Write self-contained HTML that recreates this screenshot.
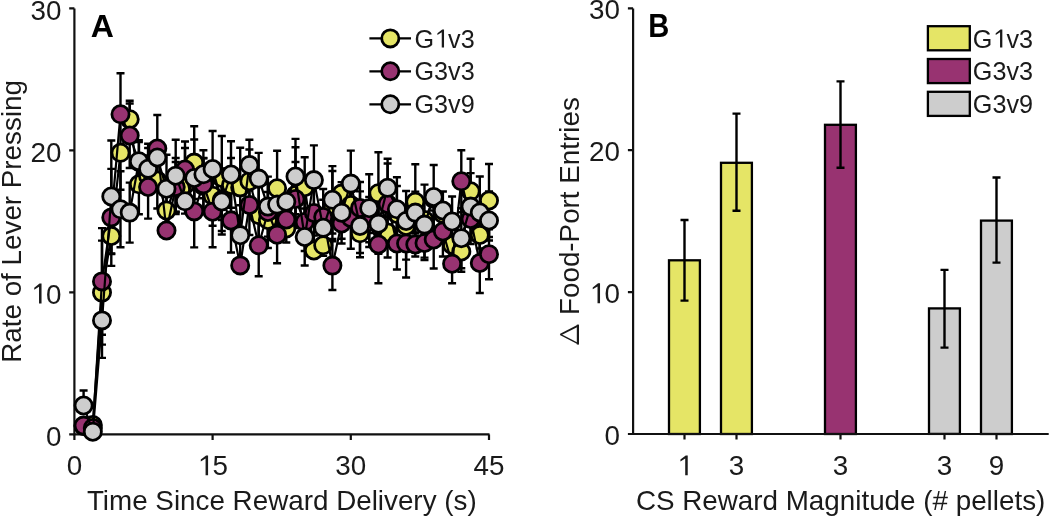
<!DOCTYPE html>
<html><head><meta charset="utf-8"><style>
html,body{margin:0;padding:0;background:#fff;}
body{width:1050px;height:516px;overflow:hidden;font-family:"Liberation Sans",sans-serif;}
svg{display:block;will-change:transform;}
</style></head><body>
<svg width="1050" height="516" viewBox="0 0 1050 516" font-family="Liberation Sans, sans-serif">
<rect width="1050" height="516" fill="#fff"/>
<path d="M74.4,8.4V434.4H489.5" stroke="#111" stroke-width="2.2" fill="none"/>
<path d="M102.0,292.6V240.6M98.0,240.6H106.0M102.0,292.6V344.6M98.0,344.6H106.0M111.3,236.0V218.0M107.3,218.0H115.3M111.3,236.0V254.0M107.3,254.0H115.3M120.5,152.8V115.8M116.5,115.8H124.5M120.5,152.8V189.8M116.5,189.8H124.5M129.7,119.2V100.7M125.7,100.7H133.7M129.7,119.2V136.7M125.7,136.7H133.7M138.9,184.3V154.3M134.9,154.3H142.9M138.9,184.3V214.3M134.9,214.3H142.9M148.1,176.0V148.0M144.1,148.0H152.1M157.3,180.5V152.5M153.3,152.5H161.3M157.3,180.5V208.5M153.3,208.5H161.3M166.5,210.5V180.5M162.5,180.5H170.5M175.7,186.0V158.0M171.7,158.0H179.7M175.7,186.0V214.0M171.7,214.0H179.7M185.0,185.0V148.0M181.0,148.0H189.0M185.0,185.0V213.6M181.0,213.6H189.0M194.2,162.6V126.2M190.2,126.2H198.2M194.2,162.6V199.0M190.2,199.0H198.2M203.4,186.0V158.0M199.4,158.0H207.4M203.4,186.0V214.0M199.4,214.0H207.4M212.6,195.8V165.8M208.6,165.8H216.6M212.6,195.8V225.8M208.6,225.8H216.6M221.8,178.0V136.0M217.8,136.0H225.8M221.8,178.0V220.0M217.8,220.0H225.8M231.0,185.0V158.0M227.0,158.0H235.0M231.0,185.0V212.0M227.0,212.0H235.0M240.2,187.4V147.8M236.2,147.8H244.2M240.2,187.4V227.0M236.2,227.0H244.2M249.4,181.2V149.5M245.4,149.5H253.4M249.4,181.2V212.9M245.4,212.9H253.4M258.7,215.0V187.0M254.7,187.0H262.7M258.7,215.0V243.0M254.7,243.0H262.7M267.9,220.0V192.0M263.9,192.0H271.9M267.9,220.0V248.0M263.9,248.0H271.9M277.1,188.3V150.8M273.1,150.8H281.1M277.1,188.3V225.8M273.1,225.8H281.1M295.5,195.0V147.3M291.5,147.3H299.5M295.5,195.0V228.0M291.5,228.0H299.5M304.7,187.2V157.2M300.7,157.2H308.7M304.7,187.2V217.2M300.7,217.2H308.7M313.9,250.5V235.5M309.9,235.5H317.9M323.2,245.3V230.3M319.2,230.3H327.2M332.4,205.0V171.0M328.4,171.0H336.4M332.4,205.0V239.0M328.4,239.0H336.4M341.6,193.6V182.1M337.6,182.1H345.6M341.6,193.6V213.6M337.6,213.6H345.6M350.8,205.0V225.0M346.8,225.0H354.8M360.0,233.3V209.3M356.0,209.3H364.0M360.0,233.3V257.3M356.0,257.3H364.0M369.2,213.0V233.0M365.2,233.0H373.2M378.4,193.3V152.3M374.4,152.3H382.4M378.4,193.3V234.3M374.4,234.3H382.4M387.6,232.5V207.5M383.6,207.5H391.6M387.6,232.5V257.5M383.6,257.5H391.6M396.9,214.0V186.0M392.9,186.0H400.9M396.9,214.0V242.0M392.9,242.0H400.9M415.3,201.8V164.2M411.3,164.2H419.3M415.3,201.8V239.4M411.3,239.4H419.3M424.5,220.0V240.0M420.5,240.0H428.5M461.3,251.5V231.2M457.3,231.2H465.3M461.3,251.5V271.8M457.3,271.8H465.3M470.6,191.3V158.7M466.6,158.7H474.6M470.6,191.3V223.9M466.6,223.9H474.6M479.8,235.0V205.0M475.8,205.0H483.8M479.8,235.0V265.0M475.8,265.0H483.8M489.0,200.5V164.0M485.0,164.0H493.0M489.0,200.5V237.0M485.0,237.0H493.0" stroke="#000" stroke-width="2.4" fill="none"/>
<path d="M83.6,425.6V421.6M79.6,421.6H87.6M83.6,425.6V429.6M79.6,429.6H87.6M102.0,281.4V228.1M98.0,228.1H106.0M102.0,281.4V334.7M98.0,334.7H106.0M111.3,217.4V168.9M107.3,168.9H115.3M111.3,217.4V265.9M107.3,265.9H115.3M120.5,114.3V73.3M116.5,73.3H124.5M129.7,135.5V103.5M125.7,103.5H133.7M129.7,135.5V168.0M125.7,168.0H133.7M138.9,162.0V142.0M134.9,142.0H142.9M138.9,162.0V182.0M134.9,182.0H142.9M148.1,187.0V155.4M144.1,155.4H152.1M148.1,187.0V218.6M144.1,218.6H152.1M157.3,148.5V115.0M153.3,115.0H161.3M157.3,148.5V180.5M153.3,180.5H161.3M166.5,230.5V202.5M162.5,202.5H170.5M175.7,187.0V162.0M171.7,162.0H179.7M175.7,187.0V212.0M171.7,212.0H179.7M185.0,169.5V141.5M181.0,141.5H189.0M185.0,169.5V197.5M181.0,197.5H189.0M194.2,211.4V175.4M190.2,175.4H198.2M194.2,211.4V247.4M190.2,247.4H198.2M203.4,184.3V158.3M199.4,158.3H207.4M203.4,184.3V210.3M199.4,210.3H207.4M212.6,211.7V176.1M208.6,176.1H216.6M212.6,211.7V247.3M208.6,247.3H216.6M221.8,200.0V169.0M217.8,169.0H225.8M221.8,200.0V231.0M217.8,231.0H225.8M231.0,220.5V188.5M227.0,188.5H235.0M231.0,220.5V252.5M227.0,252.5H235.0M240.2,265.4V240.4M236.2,240.4H244.2M249.4,205.0V175.0M245.4,175.0H253.4M249.4,205.0V235.0M245.4,235.0H253.4M258.7,245.3V214.3M254.7,214.3H262.7M258.7,245.3V276.3M254.7,276.3H262.7M267.9,212.0V184.0M263.9,184.0H271.9M267.9,212.0V240.0M263.9,240.0H271.9M277.1,234.7V206.2M273.1,206.2H281.1M277.1,234.7V263.2M273.1,263.2H281.1M286.3,219.5V196.5M282.3,196.5H290.3M286.3,219.5V242.5M282.3,242.5H290.3M295.5,199.0V162.0M291.5,162.0H299.5M295.5,199.0V224.0M291.5,224.0H299.5M304.7,222.0V194.0M300.7,194.0H308.7M304.7,222.0V251.0M300.7,251.0H308.7M313.9,213.0V185.0M309.9,185.0H317.9M313.9,213.0V241.0M309.9,241.0H317.9M323.2,217.0V189.0M319.2,189.0H327.2M323.2,217.0V245.0M319.2,245.0H327.2M332.4,265.6V241.2M328.4,241.2H336.4M332.4,265.6V290.0M328.4,290.0H336.4M341.6,223.5V203.5M337.6,203.5H345.6M341.6,223.5V243.5M337.6,243.5H345.6M350.8,218.0V248.7M346.8,248.7H354.8M360.0,208.0V182.0M356.0,182.0H364.0M360.0,208.0V233.0M356.0,233.0H364.0M369.2,222.0V197.0M365.2,197.0H373.2M369.2,222.0V247.0M365.2,247.0H373.2M378.4,244.5V205.7M374.4,205.7H382.4M378.4,244.5V283.3M374.4,283.3H382.4M387.6,204.0V163.5M383.6,163.5H391.6M387.6,204.0V229.0M383.6,229.0H391.6M396.9,243.5V217.5M392.9,217.5H400.9M396.9,243.5V269.5M392.9,269.5H400.9M406.1,243.5V209.5M402.1,209.5H410.1M406.1,243.5V277.5M402.1,277.5H410.1M415.3,244.5V232.5M411.3,232.5H419.3M415.3,244.5V256.5M411.3,256.5H419.3M424.5,243.0V223.4M420.5,223.4H428.5M424.5,243.0V260.0M420.5,260.0H428.5M433.7,239.5V210.5M429.7,210.5H437.7M433.7,239.5V268.5M429.7,268.5H437.7M442.9,231.5V206.5M438.9,206.5H446.9M442.9,231.5V256.5M438.9,256.5H446.9M452.1,263.7V244.1M448.1,244.1H456.1M452.1,263.7V283.3M448.1,283.3H456.1M461.3,181.3V150.3M457.3,150.3H465.3M461.3,181.3V212.3M457.3,212.3H465.3M470.6,219.0V194.0M466.6,194.0H474.6M470.6,219.0V244.0M466.6,244.0H474.6M479.8,263.0V233.0M475.8,233.0H483.8M479.8,263.0V293.0M475.8,293.0H483.8M489.0,254.2V229.2M485.0,229.2H493.0M489.0,254.2V279.2M485.0,279.2H493.0" stroke="#000" stroke-width="2.4" fill="none"/>
<path d="M83.6,405.5V390.5M79.6,390.5H87.6M83.6,405.5V409.5M79.6,409.5H87.6M92.8,431.7V427.7M88.8,427.7H96.8M92.8,431.7V435.7M88.8,435.7H96.8M102.0,320.4V282.9M98.0,282.9H106.0M102.0,320.4V357.9M98.0,357.9H106.0M111.3,196.5V140.5M107.3,140.5H115.3M111.3,196.5V253.5M107.3,253.5H115.3M120.5,209.3V171.3M116.5,171.3H124.5M120.5,209.3V247.3M116.5,247.3H124.5M129.7,212.6V182.6M125.7,182.6H133.7M129.7,212.6V242.6M125.7,242.6H133.7M138.9,161.2V140.2M134.9,140.2H142.9M138.9,161.2V182.2M134.9,182.2H142.9M148.1,168.8V143.8M144.1,143.8H152.1M166.5,188.7V154.7M162.5,154.7H170.5M166.5,188.7V222.7M162.5,222.7H170.5M175.7,175.7V139.7M171.7,139.7H179.7M175.7,175.7V211.7M171.7,211.7H179.7M185.0,201.3V171.3M181.0,171.3H189.0M194.2,178.0V139.5M190.2,139.5H198.2M194.2,178.0V216.5M190.2,216.5H198.2M203.4,174.3V150.3M199.4,150.3H207.4M203.4,174.3V198.3M199.4,198.3H207.4M212.6,169.0V131.0M208.6,131.0H216.6M212.6,169.0V207.0M208.6,207.0H216.6M221.8,201.5V168.5M217.8,168.5H225.8M221.8,201.5V234.5M217.8,234.5H225.8M231.0,174.5V141.2M227.0,141.2H235.0M231.0,174.5V207.8M227.0,207.8H235.0M240.2,235.2V205.2M236.2,205.2H244.2M249.4,165.0V139.7M245.4,139.7H253.4M249.4,165.0V190.3M245.4,190.3H253.4M258.7,178.6V152.9M254.7,152.9H262.7M258.7,178.6V204.3M254.7,204.3H262.7M267.9,206.6V176.6M263.9,176.6H271.9M267.9,206.6V236.6M263.9,236.6H271.9M277.1,204.6V234.6M273.1,234.6H281.1M286.3,201.7V231.7M282.3,231.7H290.3M295.5,176.5V138.9M291.5,138.9H299.5M295.5,176.5V214.1M291.5,214.1H299.5M304.7,237.0V208.5M300.7,208.5H308.7M304.7,237.0V265.5M300.7,265.5H308.7M313.9,180.1V145.4M309.9,145.4H317.9M313.9,180.1V214.8M309.9,214.8H317.9M323.2,227.8V199.8M319.2,199.8H327.2M323.2,227.8V255.8M319.2,255.8H327.2M332.4,199.8V166.1M328.4,166.1H336.4M332.4,199.8V233.5M328.4,233.5H336.4M341.6,212.7V186.7M337.6,186.7H345.6M341.6,212.7V238.7M337.6,238.7H345.6M350.8,183.6V150.6M346.8,150.6H354.8M350.8,183.6V216.6M346.8,216.6H354.8M360.0,226.0V191.4M356.0,191.4H364.0M360.0,226.0V253.0M356.0,253.0H364.0M369.2,208.2V174.2M365.2,174.2H373.2M369.2,208.2V242.2M365.2,242.2H373.2M378.4,223.7V193.7M374.4,193.7H382.4M378.4,223.7V253.7M374.4,253.7H382.4M387.6,187.8V158.8M383.6,158.8H391.6M387.6,187.8V216.8M383.6,216.8H391.6M396.9,209.3V177.3M392.9,177.3H400.9M396.9,209.3V241.3M392.9,241.3H400.9M406.1,221.0V191.0M402.1,191.0H410.1M406.1,221.0V259.6M402.1,259.6H410.1M415.3,212.6V191.6M411.3,191.6H419.3M415.3,212.6V233.6M411.3,233.6H419.3M424.5,224.6V184.6M420.5,184.6H428.5M424.5,224.6V257.6M420.5,257.6H428.5M433.7,197.0V165.0M429.7,165.0H437.7M433.7,197.0V229.0M429.7,229.0H437.7M442.9,210.5V191.5M438.9,191.5H446.9M442.9,210.5V224.5M438.9,224.5H446.9M452.1,221.5V196.5M448.1,196.5H456.1M452.1,221.5V246.5M448.1,246.5H456.1M461.3,238.2V208.2M457.3,208.2H465.3M461.3,238.2V268.2M457.3,268.2H465.3M470.6,206.6V173.1M466.6,173.1H474.6M470.6,206.6V240.1M466.6,240.1H474.6M479.8,212.5V176.5M475.8,176.5H483.8M479.8,212.5V248.5M475.8,248.5H483.8M489.0,220.5V191.5M485.0,191.5H493.0M489.0,220.5V240.5M485.0,240.5H493.0" stroke="#000" stroke-width="2.4" fill="none"/>
<polyline points="83.6,426.0 92.8,425.0 102.0,292.6 111.3,236.0 120.5,152.8 129.7,119.2 138.9,184.3 148.1,176.0 157.3,180.5 166.5,210.5 175.7,186.0 185.0,185.0 194.2,162.6 203.4,186.0 212.6,195.8 221.8,178.0 231.0,185.0 240.2,187.4 249.4,181.2 258.7,215.0 267.9,220.0 277.1,188.3 286.3,228.5 295.5,195.0 304.7,187.2 313.9,250.5 323.2,245.3 332.4,205.0 341.6,193.6 350.8,205.0 360.0,233.3 369.2,213.0 378.4,193.3 387.6,232.5 396.9,214.0 406.1,226.0 415.3,201.8 424.5,220.0 433.7,199.0 442.9,214.0 452.1,245.0 461.3,251.5 470.6,191.3 479.8,235.0 489.0,200.5" fill="none" stroke="#000" stroke-width="2.2" stroke-linejoin="round"/>
<circle cx="83.6" cy="426.0" r="8.6" fill="#e5e566" stroke="#000" stroke-width="2.8"/>
<circle cx="92.8" cy="425.0" r="8.6" fill="#e5e566" stroke="#000" stroke-width="2.8"/>
<circle cx="102.0" cy="292.6" r="8.6" fill="#e5e566" stroke="#000" stroke-width="2.8"/>
<circle cx="111.3" cy="236.0" r="8.6" fill="#e5e566" stroke="#000" stroke-width="2.8"/>
<circle cx="120.5" cy="152.8" r="8.6" fill="#e5e566" stroke="#000" stroke-width="2.8"/>
<circle cx="129.7" cy="119.2" r="8.6" fill="#e5e566" stroke="#000" stroke-width="2.8"/>
<circle cx="138.9" cy="184.3" r="8.6" fill="#e5e566" stroke="#000" stroke-width="2.8"/>
<circle cx="148.1" cy="176.0" r="8.6" fill="#e5e566" stroke="#000" stroke-width="2.8"/>
<circle cx="157.3" cy="180.5" r="8.6" fill="#e5e566" stroke="#000" stroke-width="2.8"/>
<circle cx="166.5" cy="210.5" r="8.6" fill="#e5e566" stroke="#000" stroke-width="2.8"/>
<circle cx="175.7" cy="186.0" r="8.6" fill="#e5e566" stroke="#000" stroke-width="2.8"/>
<circle cx="185.0" cy="185.0" r="8.6" fill="#e5e566" stroke="#000" stroke-width="2.8"/>
<circle cx="194.2" cy="162.6" r="8.6" fill="#e5e566" stroke="#000" stroke-width="2.8"/>
<circle cx="203.4" cy="186.0" r="8.6" fill="#e5e566" stroke="#000" stroke-width="2.8"/>
<circle cx="212.6" cy="195.8" r="8.6" fill="#e5e566" stroke="#000" stroke-width="2.8"/>
<circle cx="221.8" cy="178.0" r="8.6" fill="#e5e566" stroke="#000" stroke-width="2.8"/>
<circle cx="231.0" cy="185.0" r="8.6" fill="#e5e566" stroke="#000" stroke-width="2.8"/>
<circle cx="240.2" cy="187.4" r="8.6" fill="#e5e566" stroke="#000" stroke-width="2.8"/>
<circle cx="249.4" cy="181.2" r="8.6" fill="#e5e566" stroke="#000" stroke-width="2.8"/>
<circle cx="258.7" cy="215.0" r="8.6" fill="#e5e566" stroke="#000" stroke-width="2.8"/>
<circle cx="267.9" cy="220.0" r="8.6" fill="#e5e566" stroke="#000" stroke-width="2.8"/>
<circle cx="277.1" cy="188.3" r="8.6" fill="#e5e566" stroke="#000" stroke-width="2.8"/>
<circle cx="286.3" cy="228.5" r="8.6" fill="#e5e566" stroke="#000" stroke-width="2.8"/>
<circle cx="295.5" cy="195.0" r="8.6" fill="#e5e566" stroke="#000" stroke-width="2.8"/>
<circle cx="304.7" cy="187.2" r="8.6" fill="#e5e566" stroke="#000" stroke-width="2.8"/>
<circle cx="313.9" cy="250.5" r="8.6" fill="#e5e566" stroke="#000" stroke-width="2.8"/>
<circle cx="323.2" cy="245.3" r="8.6" fill="#e5e566" stroke="#000" stroke-width="2.8"/>
<circle cx="332.4" cy="205.0" r="8.6" fill="#e5e566" stroke="#000" stroke-width="2.8"/>
<circle cx="341.6" cy="193.6" r="8.6" fill="#e5e566" stroke="#000" stroke-width="2.8"/>
<circle cx="350.8" cy="205.0" r="8.6" fill="#e5e566" stroke="#000" stroke-width="2.8"/>
<circle cx="360.0" cy="233.3" r="8.6" fill="#e5e566" stroke="#000" stroke-width="2.8"/>
<circle cx="369.2" cy="213.0" r="8.6" fill="#e5e566" stroke="#000" stroke-width="2.8"/>
<circle cx="378.4" cy="193.3" r="8.6" fill="#e5e566" stroke="#000" stroke-width="2.8"/>
<circle cx="387.6" cy="232.5" r="8.6" fill="#e5e566" stroke="#000" stroke-width="2.8"/>
<circle cx="396.9" cy="214.0" r="8.6" fill="#e5e566" stroke="#000" stroke-width="2.8"/>
<circle cx="406.1" cy="226.0" r="8.6" fill="#e5e566" stroke="#000" stroke-width="2.8"/>
<circle cx="415.3" cy="201.8" r="8.6" fill="#e5e566" stroke="#000" stroke-width="2.8"/>
<circle cx="424.5" cy="220.0" r="8.6" fill="#e5e566" stroke="#000" stroke-width="2.8"/>
<circle cx="433.7" cy="199.0" r="8.6" fill="#e5e566" stroke="#000" stroke-width="2.8"/>
<circle cx="442.9" cy="214.0" r="8.6" fill="#e5e566" stroke="#000" stroke-width="2.8"/>
<circle cx="452.1" cy="245.0" r="8.6" fill="#e5e566" stroke="#000" stroke-width="2.8"/>
<circle cx="461.3" cy="251.5" r="8.6" fill="#e5e566" stroke="#000" stroke-width="2.8"/>
<circle cx="470.6" cy="191.3" r="8.6" fill="#e5e566" stroke="#000" stroke-width="2.8"/>
<circle cx="479.8" cy="235.0" r="8.6" fill="#e5e566" stroke="#000" stroke-width="2.8"/>
<circle cx="489.0" cy="200.5" r="8.6" fill="#e5e566" stroke="#000" stroke-width="2.8"/>
<polyline points="83.6,425.6 92.8,428.0 102.0,281.4 111.3,217.4 120.5,114.3 129.7,135.5 138.9,162.0 148.1,187.0 157.3,148.5 166.5,230.5 175.7,187.0 185.0,169.5 194.2,211.4 203.4,184.3 212.6,211.7 221.8,200.0 231.0,220.5 240.2,265.4 249.4,205.0 258.7,245.3 267.9,212.0 277.1,234.7 286.3,219.5 295.5,199.0 304.7,222.0 313.9,213.0 323.2,217.0 332.4,265.6 341.6,223.5 350.8,218.0 360.0,208.0 369.2,222.0 378.4,244.5 387.6,204.0 396.9,243.5 406.1,243.5 415.3,244.5 424.5,243.0 433.7,239.5 442.9,231.5 452.1,263.7 461.3,181.3 470.6,219.0 479.8,263.0 489.0,254.2" fill="none" stroke="#000" stroke-width="2.2" stroke-linejoin="round"/>
<circle cx="83.6" cy="425.6" r="8.6" fill="#983371" stroke="#000" stroke-width="2.8"/>
<circle cx="92.8" cy="428.0" r="8.6" fill="#983371" stroke="#000" stroke-width="2.8"/>
<circle cx="102.0" cy="281.4" r="8.6" fill="#983371" stroke="#000" stroke-width="2.8"/>
<circle cx="111.3" cy="217.4" r="8.6" fill="#983371" stroke="#000" stroke-width="2.8"/>
<circle cx="120.5" cy="114.3" r="8.6" fill="#983371" stroke="#000" stroke-width="2.8"/>
<circle cx="129.7" cy="135.5" r="8.6" fill="#983371" stroke="#000" stroke-width="2.8"/>
<circle cx="138.9" cy="162.0" r="8.6" fill="#983371" stroke="#000" stroke-width="2.8"/>
<circle cx="148.1" cy="187.0" r="8.6" fill="#983371" stroke="#000" stroke-width="2.8"/>
<circle cx="157.3" cy="148.5" r="8.6" fill="#983371" stroke="#000" stroke-width="2.8"/>
<circle cx="166.5" cy="230.5" r="8.6" fill="#983371" stroke="#000" stroke-width="2.8"/>
<circle cx="175.7" cy="187.0" r="8.6" fill="#983371" stroke="#000" stroke-width="2.8"/>
<circle cx="185.0" cy="169.5" r="8.6" fill="#983371" stroke="#000" stroke-width="2.8"/>
<circle cx="194.2" cy="211.4" r="8.6" fill="#983371" stroke="#000" stroke-width="2.8"/>
<circle cx="203.4" cy="184.3" r="8.6" fill="#983371" stroke="#000" stroke-width="2.8"/>
<circle cx="212.6" cy="211.7" r="8.6" fill="#983371" stroke="#000" stroke-width="2.8"/>
<circle cx="221.8" cy="200.0" r="8.6" fill="#983371" stroke="#000" stroke-width="2.8"/>
<circle cx="231.0" cy="220.5" r="8.6" fill="#983371" stroke="#000" stroke-width="2.8"/>
<circle cx="240.2" cy="265.4" r="8.6" fill="#983371" stroke="#000" stroke-width="2.8"/>
<circle cx="249.4" cy="205.0" r="8.6" fill="#983371" stroke="#000" stroke-width="2.8"/>
<circle cx="258.7" cy="245.3" r="8.6" fill="#983371" stroke="#000" stroke-width="2.8"/>
<circle cx="267.9" cy="212.0" r="8.6" fill="#983371" stroke="#000" stroke-width="2.8"/>
<circle cx="277.1" cy="234.7" r="8.6" fill="#983371" stroke="#000" stroke-width="2.8"/>
<circle cx="286.3" cy="219.5" r="8.6" fill="#983371" stroke="#000" stroke-width="2.8"/>
<circle cx="295.5" cy="199.0" r="8.6" fill="#983371" stroke="#000" stroke-width="2.8"/>
<circle cx="304.7" cy="222.0" r="8.6" fill="#983371" stroke="#000" stroke-width="2.8"/>
<circle cx="313.9" cy="213.0" r="8.6" fill="#983371" stroke="#000" stroke-width="2.8"/>
<circle cx="323.2" cy="217.0" r="8.6" fill="#983371" stroke="#000" stroke-width="2.8"/>
<circle cx="332.4" cy="265.6" r="8.6" fill="#983371" stroke="#000" stroke-width="2.8"/>
<circle cx="341.6" cy="223.5" r="8.6" fill="#983371" stroke="#000" stroke-width="2.8"/>
<circle cx="350.8" cy="218.0" r="8.6" fill="#983371" stroke="#000" stroke-width="2.8"/>
<circle cx="360.0" cy="208.0" r="8.6" fill="#983371" stroke="#000" stroke-width="2.8"/>
<circle cx="369.2" cy="222.0" r="8.6" fill="#983371" stroke="#000" stroke-width="2.8"/>
<circle cx="378.4" cy="244.5" r="8.6" fill="#983371" stroke="#000" stroke-width="2.8"/>
<circle cx="387.6" cy="204.0" r="8.6" fill="#983371" stroke="#000" stroke-width="2.8"/>
<circle cx="396.9" cy="243.5" r="8.6" fill="#983371" stroke="#000" stroke-width="2.8"/>
<circle cx="406.1" cy="243.5" r="8.6" fill="#983371" stroke="#000" stroke-width="2.8"/>
<circle cx="415.3" cy="244.5" r="8.6" fill="#983371" stroke="#000" stroke-width="2.8"/>
<circle cx="424.5" cy="243.0" r="8.6" fill="#983371" stroke="#000" stroke-width="2.8"/>
<circle cx="433.7" cy="239.5" r="8.6" fill="#983371" stroke="#000" stroke-width="2.8"/>
<circle cx="442.9" cy="231.5" r="8.6" fill="#983371" stroke="#000" stroke-width="2.8"/>
<circle cx="452.1" cy="263.7" r="8.6" fill="#983371" stroke="#000" stroke-width="2.8"/>
<circle cx="461.3" cy="181.3" r="8.6" fill="#983371" stroke="#000" stroke-width="2.8"/>
<circle cx="470.6" cy="219.0" r="8.6" fill="#983371" stroke="#000" stroke-width="2.8"/>
<circle cx="479.8" cy="263.0" r="8.6" fill="#983371" stroke="#000" stroke-width="2.8"/>
<circle cx="489.0" cy="254.2" r="8.6" fill="#983371" stroke="#000" stroke-width="2.8"/>
<polyline points="83.6,405.5 92.8,431.7 102.0,320.4 111.3,196.5 120.5,209.3 129.7,212.6 138.9,161.2 148.1,168.8 157.3,157.5 166.5,188.7 175.7,175.7 185.0,201.3 194.2,178.0 203.4,174.3 212.6,169.0 221.8,201.5 231.0,174.5 240.2,235.2 249.4,165.0 258.7,178.6 267.9,206.6 277.1,204.6 286.3,201.7 295.5,176.5 304.7,237.0 313.9,180.1 323.2,227.8 332.4,199.8 341.6,212.7 350.8,183.6 360.0,226.0 369.2,208.2 378.4,223.7 387.6,187.8 396.9,209.3 406.1,221.0 415.3,212.6 424.5,224.6 433.7,197.0 442.9,210.5 452.1,221.5 461.3,238.2 470.6,206.6 479.8,212.5 489.0,220.5" fill="none" stroke="#000" stroke-width="2.2" stroke-linejoin="round"/>
<circle cx="83.6" cy="405.5" r="8.6" fill="#cdcdcd" stroke="#000" stroke-width="2.8"/>
<circle cx="92.8" cy="431.7" r="8.6" fill="#cdcdcd" stroke="#000" stroke-width="2.8"/>
<circle cx="102.0" cy="320.4" r="8.6" fill="#cdcdcd" stroke="#000" stroke-width="2.8"/>
<circle cx="111.3" cy="196.5" r="8.6" fill="#cdcdcd" stroke="#000" stroke-width="2.8"/>
<circle cx="120.5" cy="209.3" r="8.6" fill="#cdcdcd" stroke="#000" stroke-width="2.8"/>
<circle cx="129.7" cy="212.6" r="8.6" fill="#cdcdcd" stroke="#000" stroke-width="2.8"/>
<circle cx="138.9" cy="161.2" r="8.6" fill="#cdcdcd" stroke="#000" stroke-width="2.8"/>
<circle cx="148.1" cy="168.8" r="8.6" fill="#cdcdcd" stroke="#000" stroke-width="2.8"/>
<circle cx="157.3" cy="157.5" r="8.6" fill="#cdcdcd" stroke="#000" stroke-width="2.8"/>
<circle cx="166.5" cy="188.7" r="8.6" fill="#cdcdcd" stroke="#000" stroke-width="2.8"/>
<circle cx="175.7" cy="175.7" r="8.6" fill="#cdcdcd" stroke="#000" stroke-width="2.8"/>
<circle cx="185.0" cy="201.3" r="8.6" fill="#cdcdcd" stroke="#000" stroke-width="2.8"/>
<circle cx="194.2" cy="178.0" r="8.6" fill="#cdcdcd" stroke="#000" stroke-width="2.8"/>
<circle cx="203.4" cy="174.3" r="8.6" fill="#cdcdcd" stroke="#000" stroke-width="2.8"/>
<circle cx="212.6" cy="169.0" r="8.6" fill="#cdcdcd" stroke="#000" stroke-width="2.8"/>
<circle cx="221.8" cy="201.5" r="8.6" fill="#cdcdcd" stroke="#000" stroke-width="2.8"/>
<circle cx="231.0" cy="174.5" r="8.6" fill="#cdcdcd" stroke="#000" stroke-width="2.8"/>
<circle cx="240.2" cy="235.2" r="8.6" fill="#cdcdcd" stroke="#000" stroke-width="2.8"/>
<circle cx="249.4" cy="165.0" r="8.6" fill="#cdcdcd" stroke="#000" stroke-width="2.8"/>
<circle cx="258.7" cy="178.6" r="8.6" fill="#cdcdcd" stroke="#000" stroke-width="2.8"/>
<circle cx="267.9" cy="206.6" r="8.6" fill="#cdcdcd" stroke="#000" stroke-width="2.8"/>
<circle cx="277.1" cy="204.6" r="8.6" fill="#cdcdcd" stroke="#000" stroke-width="2.8"/>
<circle cx="286.3" cy="201.7" r="8.6" fill="#cdcdcd" stroke="#000" stroke-width="2.8"/>
<circle cx="295.5" cy="176.5" r="8.6" fill="#cdcdcd" stroke="#000" stroke-width="2.8"/>
<circle cx="304.7" cy="237.0" r="8.6" fill="#cdcdcd" stroke="#000" stroke-width="2.8"/>
<circle cx="313.9" cy="180.1" r="8.6" fill="#cdcdcd" stroke="#000" stroke-width="2.8"/>
<circle cx="323.2" cy="227.8" r="8.6" fill="#cdcdcd" stroke="#000" stroke-width="2.8"/>
<circle cx="332.4" cy="199.8" r="8.6" fill="#cdcdcd" stroke="#000" stroke-width="2.8"/>
<circle cx="341.6" cy="212.7" r="8.6" fill="#cdcdcd" stroke="#000" stroke-width="2.8"/>
<circle cx="350.8" cy="183.6" r="8.6" fill="#cdcdcd" stroke="#000" stroke-width="2.8"/>
<circle cx="360.0" cy="226.0" r="8.6" fill="#cdcdcd" stroke="#000" stroke-width="2.8"/>
<circle cx="369.2" cy="208.2" r="8.6" fill="#cdcdcd" stroke="#000" stroke-width="2.8"/>
<circle cx="378.4" cy="223.7" r="8.6" fill="#cdcdcd" stroke="#000" stroke-width="2.8"/>
<circle cx="387.6" cy="187.8" r="8.6" fill="#cdcdcd" stroke="#000" stroke-width="2.8"/>
<circle cx="396.9" cy="209.3" r="8.6" fill="#cdcdcd" stroke="#000" stroke-width="2.8"/>
<circle cx="406.1" cy="221.0" r="8.6" fill="#cdcdcd" stroke="#000" stroke-width="2.8"/>
<circle cx="415.3" cy="212.6" r="8.6" fill="#cdcdcd" stroke="#000" stroke-width="2.8"/>
<circle cx="424.5" cy="224.6" r="8.6" fill="#cdcdcd" stroke="#000" stroke-width="2.8"/>
<circle cx="433.7" cy="197.0" r="8.6" fill="#cdcdcd" stroke="#000" stroke-width="2.8"/>
<circle cx="442.9" cy="210.5" r="8.6" fill="#cdcdcd" stroke="#000" stroke-width="2.8"/>
<circle cx="452.1" cy="221.5" r="8.6" fill="#cdcdcd" stroke="#000" stroke-width="2.8"/>
<circle cx="461.3" cy="238.2" r="8.6" fill="#cdcdcd" stroke="#000" stroke-width="2.8"/>
<circle cx="470.6" cy="206.6" r="8.6" fill="#cdcdcd" stroke="#000" stroke-width="2.8"/>
<circle cx="479.8" cy="212.5" r="8.6" fill="#cdcdcd" stroke="#000" stroke-width="2.8"/>
<circle cx="489.0" cy="220.5" r="8.6" fill="#cdcdcd" stroke="#000" stroke-width="2.8"/>
<path d="M69.2,434.4H74.4M69.2,292.4H74.4M69.2,150.4H74.4M69.2,8.4H74.4M74.4,434.4V439.9M212.6,434.4V439.9M350.8,434.4V439.9M489.0,434.4V439.9" stroke="#111" stroke-width="2.2" fill="none"/>
<text x="46.04" y="445.50" font-size="27.8" fill="#1a1a1a">0</text>
<path transform="translate(30.58,303.50) scale(0.013574,-0.013574)" d="M622,0L622,1230L269,1020L269,1165L660,1466L807,1466L807,0Z" fill="#1a1a1a"/><text x="46.04" y="303.50" font-size="27.8" fill="#1a1a1a">0</text>
<text x="30.58" y="161.50" font-size="27.8" fill="#1a1a1a">20</text>
<text x="30.58" y="19.50" font-size="27.8" fill="#1a1a1a">30</text>
<text x="66.67" y="475.30" font-size="27.8" fill="#1a1a1a">0</text>
<path transform="translate(197.13,475.30) scale(0.013574,-0.013574)" d="M622,0L622,1230L269,1020L269,1165L660,1466L807,1466L807,0Z" fill="#1a1a1a"/><text x="212.59" y="475.30" font-size="27.8" fill="#1a1a1a">5</text>
<text x="335.33" y="475.30" font-size="27.8" fill="#1a1a1a">30</text>
<text x="473.52" y="475.30" font-size="27.8" fill="#1a1a1a">45</text>
<text x="281.8" y="510.2" font-size="27.8" text-anchor="middle" fill="#1a1a1a">Time Since Reward Delivery (s)</text>
<text transform="translate(20.6,221.4) rotate(-90)" font-size="27.8" text-anchor="middle" fill="#1a1a1a">Rate of Lever Pressing</text>
<text x="90.8" y="36.9" font-size="32" font-weight="bold" fill="#000">A</text>
<path d="M369.4,38.4H411" stroke="#000" stroke-width="2.2"/>
<circle cx="390.3" cy="38.4" r="8.6" fill="#e5e566" stroke="#000" stroke-width="2.8"/>
<text x="414.50" y="47.50" font-size="25.2" fill="#1a1a1a">G</text><path transform="translate(434.10,47.50) scale(0.012305,-0.012305)" d="M622,0L622,1230L269,1020L269,1165L660,1466L807,1466L807,0Z" fill="#1a1a1a"/><text x="448.12" y="47.50" font-size="25.2" fill="#1a1a1a">v3</text>
<path d="M369.4,71.3H411" stroke="#000" stroke-width="2.2"/>
<circle cx="390.3" cy="71.3" r="8.6" fill="#983371" stroke="#000" stroke-width="2.8"/>
<text x="414.50" y="80.45" font-size="25.2" fill="#1a1a1a">G3v3</text>
<path d="M369.4,104.3H411" stroke="#000" stroke-width="2.2"/>
<circle cx="390.3" cy="104.3" r="8.6" fill="#cdcdcd" stroke="#000" stroke-width="2.8"/>
<text x="414.50" y="113.40" font-size="25.2" fill="#1a1a1a">G3v9</text>
<rect x="669.0" y="260.3" width="30.9" height="173.7" fill="#e5e566" stroke="#000" stroke-width="2.3"/>
<rect x="721.0" y="162.8" width="30.9" height="271.2" fill="#e5e566" stroke="#000" stroke-width="2.3"/>
<rect x="825.0" y="124.8" width="30.9" height="309.2" fill="#983371" stroke="#000" stroke-width="2.3"/>
<rect x="929.0" y="308.4" width="30.9" height="125.5" fill="#cdcdcd" stroke="#000" stroke-width="2.3"/>
<rect x="981.0" y="220.6" width="30.9" height="213.4" fill="#cdcdcd" stroke="#000" stroke-width="2.3"/>
<path d="M684.5,220V300.6M680.5,220H688.5M680.5,300.6H688.5" stroke="#000" stroke-width="2.4" fill="none"/>
<path d="M736.5,113.6V210.7M732.5,113.6H740.5M732.5,210.7H740.5" stroke="#000" stroke-width="2.4" fill="none"/>
<path d="M840.5,81.4V167.8M836.5,81.4H844.5M836.5,167.8H844.5" stroke="#000" stroke-width="2.4" fill="none"/>
<path d="M944.5,269.9V347.6M940.5,269.9H948.5M940.5,347.6H948.5" stroke="#000" stroke-width="2.4" fill="none"/>
<path d="M996.5,177.5V262.6M992.5,177.5H1000.5M992.5,262.6H1000.5" stroke="#000" stroke-width="2.4" fill="none"/>
<path d="M633.1,8.4V434.0H1048.7" stroke="#111" stroke-width="2.2" fill="none"/>
<path d="M627.9,434.0H633.1M627.9,292.1H633.1M627.9,150.2H633.1M627.9,8.3H633.1M684.5,434.0V439.5M736.5,434.0V439.5M840.5,434.0V439.5M944.5,434.0V439.5M996.5,434.0V439.5" stroke="#111" stroke-width="2.2" fill="none"/>
<text x="604.54" y="445.10" font-size="27.8" fill="#1a1a1a">0</text>
<path transform="translate(589.08,303.20) scale(0.013574,-0.013574)" d="M622,0L622,1230L269,1020L269,1165L660,1466L807,1466L807,0Z" fill="#1a1a1a"/><text x="604.54" y="303.20" font-size="27.8" fill="#1a1a1a">0</text>
<text x="589.08" y="161.30" font-size="27.8" fill="#1a1a1a">20</text>
<text x="589.08" y="19.40" font-size="27.8" fill="#1a1a1a">30</text>
<path transform="translate(676.77,475.30) scale(0.013574,-0.013574)" d="M622,0L622,1230L269,1020L269,1165L660,1466L807,1466L807,0Z" fill="#1a1a1a"/>
<text x="728.77" y="475.30" font-size="27.8" fill="#1a1a1a">3</text>
<text x="832.77" y="475.30" font-size="27.8" fill="#1a1a1a">3</text>
<text x="936.77" y="475.30" font-size="27.8" fill="#1a1a1a">3</text>
<text x="988.77" y="475.30" font-size="27.8" fill="#1a1a1a">9</text>
<text x="840.6" y="510.2" font-size="27.8" text-anchor="middle" fill="#1a1a1a">CS Reward Magnitude (# pellets)</text>
<text transform="translate(579.4,315.0) rotate(-90)" font-size="27.8" text-anchor="start" fill="#1a1a1a">Food-Port Entries</text>
<path d="M577.9,324.7V344.5" stroke="#1a1a1a" stroke-width="2.2" fill="none"/>
<path d="M578.6,325.3L560.6,334.5" stroke="#1a1a1a" stroke-width="1.9" fill="none"/>
<path d="M560.2,334.3L578.6,343.8" stroke="#1a1a1a" stroke-width="1.3" fill="none"/>
<text transform="translate(648.35,37.2) scale(0.91,1.01)" font-size="32" font-weight="bold" fill="#000">B</text>
<rect x="927.9" y="26.2" width="41.9" height="24.1" fill="#e5e566" stroke="#000" stroke-width="2.3"/>
<text x="972.80" y="47.50" font-size="25.2" fill="#1a1a1a">G</text><path transform="translate(992.40,47.50) scale(0.012305,-0.012305)" d="M622,0L622,1230L269,1020L269,1165L660,1466L807,1466L807,0Z" fill="#1a1a1a"/><text x="1006.42" y="47.50" font-size="25.2" fill="#1a1a1a">v3</text>
<rect x="927.9" y="59.0" width="41.9" height="24.1" fill="#983371" stroke="#000" stroke-width="2.3"/>
<text x="972.80" y="80.30" font-size="25.2" fill="#1a1a1a">G3v3</text>
<rect x="927.9" y="91.8" width="41.9" height="24.1" fill="#cdcdcd" stroke="#000" stroke-width="2.3"/>
<text x="972.80" y="113.10" font-size="25.2" fill="#1a1a1a">G3v9</text>
</svg>
</body></html>
